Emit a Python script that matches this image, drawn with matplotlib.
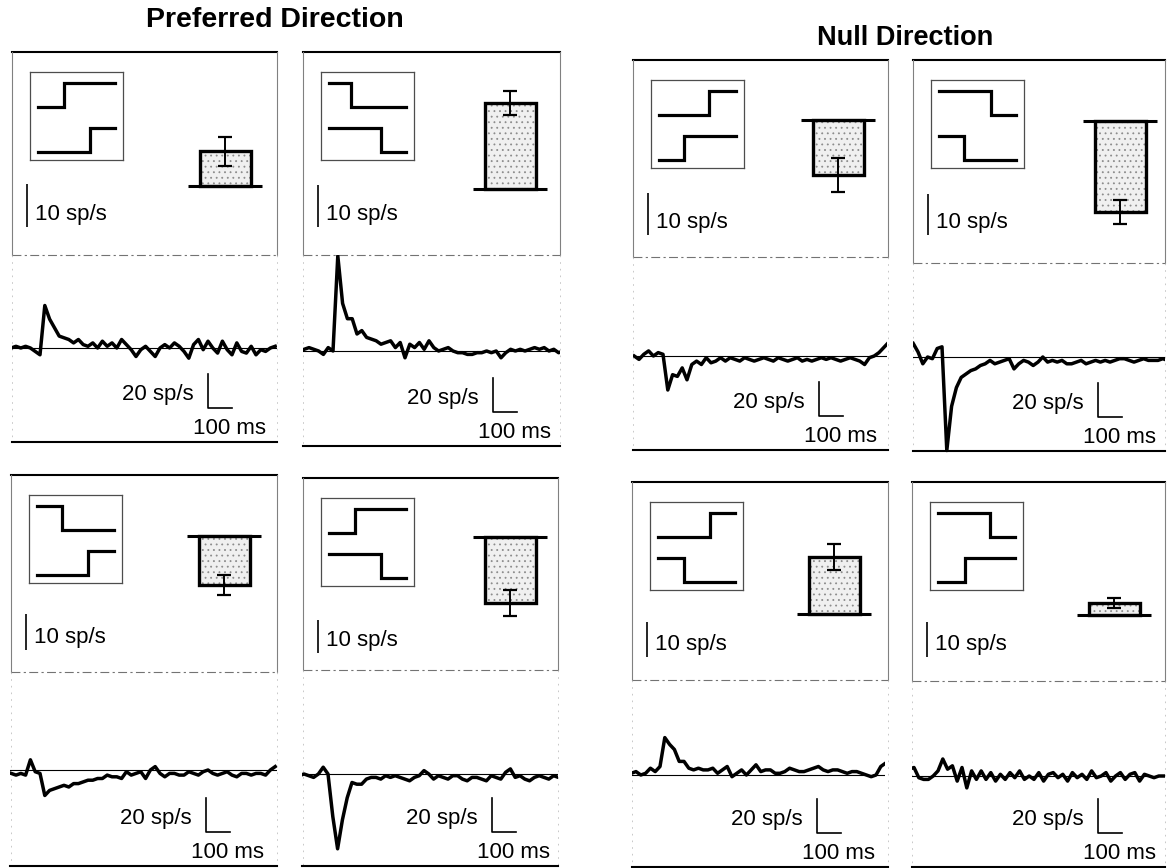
import matplotlib
matplotlib.use("Agg")
import matplotlib.pyplot as plt

W_PX, H_PX = 1171, 868

plt.rcParams['font.family'] = ['Liberation Sans', 'DejaVu Sans']
plt.rcParams['hatch.linewidth'] = 0.6

# ---- data (sp/s, ms) ----
# order: preferred 1-4, null 1-4 (row by row)
bar_mean = [8.1, 20.5, -13.6, -20.0, -13.1, -22.2, 16.3, 3.4]
bar_err = [3.4, 2.9, 2.8, 3.8, 4.0, 2.9, 3.6, 1.4]

# stimulus schematic: direction and step position of upper / lower line
stim_top = ['up', 'down', 'down', 'up', 'up', 'down', 'up', 'down']
stim_top_step = [0.37, 0.32, 0.36, 0.37, 0.62, 0.65, 0.64, 0.65]
stim_bot = ['up', 'down', 'up', 'down', 'up', 'down', 'down', 'up']
stim_bot_step = [0.64, 0.64, 0.63, 0.65, 0.35, 0.35, 0.37, 0.38]

t_ms = list(range(-120, 1000, 20))

trace_p1 = [0, 1, 0, 1, 0, -2,
            -4, 25, 17, 12, 7, 6, 5, 3, 5, 2,
            1, 3, 0, 4, 1, 3, 0, 5, 2, -1,
            -5, -1, 1, -2, -5, 0, 2, 0, 3, 1,
            -2, -6, 2, 5, -1, 4, 0, -3, 4, -1,
            -4, 3, -2, -3, 1, -4, -1, -2, 0, 1]
trace_p2 = [1, 2, 1, 0, -2, 2,
            0, 56, 28, 19, 19, 10, 12, 8, 7, 6,
            4, 5, 6, 2, 5, -4, 4, 2, 5, 1,
            6, 2, 0, 1, 2, 0, -1, -1, -2, -2,
            -1, -1, 0, -1, 0, -4, -1, 1, 0, 1,
            0, 1, 2, 1, 2, 0, 1, -1, 0, 1]
trace_p3 = [-2, -3, -2, -3, 6, -1,
            -2, -15, -12, -11, -10, -9, -10, -8, -8, -7,
            -6, -6, -5, -5, -3, -4, -4, -5, -1, -3,
            -2, -1, -5, 0, 2, -2, -4, -2, -2, -3,
            -3, -1, -2, -3, -1, 0, -2, -3, -2, -1,
            -3, -4, -2, -2, -3, -2, -2, -3, 0, 2]
trace_p4 = [-1, 0, -1, -2, 0, 4,
            0, -25, -44, -27, -14, -5, -6, -6, -3, -2,
            -2, -3, -1, -2, -1, -2, -3, -4, -2, -1,
            2, 0, -3, -1, -2, -3, -1, -1, -3, -4,
            -2, -2, -3, -4, -1, -2, -3, 1, 3, -2,
            -1, -3, -4, -2, -1, -2, -3, -1, -2, 0]
trace_n1 = [0, -2, 1, 3, 0, 2,
            1, -20, -11, -12, -7, -14, -5, -3, -5, -1,
            -4, -3, -1, -3, -1, -2, -3, -1, -2, -3,
            -2, -1, -2, -3, -1, -2, -3, -2, -1, -3,
            -2, -3, -2, -1, -2, -1, -2, -3, -2, -1,
            -2, -3, -5, -1, 0, 2, 5, 8, 8, 8]
trace_n2 = [8, 3, -4, 0, -1, 5,
            6, -55, -29, -18, -12, -10, -8, -7, -5, -4,
            -2, -4, -3, -2, -1, -7, -4, -2, -3, -5,
            -3, 0, -3, -2, -3, -2, -4, -4, -3, -2,
            -4, -3, -2, -3, -2, -3, -2, -1, -1, -2,
            -3, -2, -1, -2, -2, -2, -1, -2, -1, -1]
trace_n3 = [1, 2, 0, 1, 4, 2,
            5, 22, 18, 15, 8, 8, 4, 3, 4, 3,
            3, 4, 1, 3, 5, -1, 1, 3, 0, 3,
            6, 2, 3, 3, 1, 1, 2, 4, 3, 2,
            2, 3, 4, 5, 3, 2, 3, 3, 2, 1,
            2, 2, 1, 0, -1, 0, 5, 7, 7, 7]
trace_n4 = [4, 5, -1, -2, -2, 0,
            3, 10, 4, 6, -3, 5, -7, 3, -2, 3,
            -2, 2, -3, 1, -2, 2, -1, 3, -2, 0,
            -2, 2, -3, 1, 2, -1, 1, -3, 2, -1,
            1, -2, 3, -1, 0, 2, -3, 0, 2, -2,
            1, 2, -3, 1, 0, -1, 0, 0, 0, 0]
traces = [trace_p1, trace_p2, trace_p3, trace_p4,
          trace_n1, trace_n2, trace_n3, trace_n4]

# ---- layout (pixels, from top-left) ----
# left, right, top, dashed separator, bottom line
frames = [(12, 277, 52, 255, 442), (303, 560, 52, 255, 446),
          (11, 277, 475, 672, 866), (303, 558, 478, 670, 866),
          (633, 888, 60, 257, 450), (913, 1165, 60, 263, 451),
          (632, 888, 482, 680, 867), (912, 1165, 482, 681, 867)]
bar_base_rel = [134, 137, 61, 59, 60, 61, 132, 133]
bar_x_rel = [213, 207, 213, 207, 205, 207, 202, 202]
px_per_10 = [43, 42, 36, 33, 42, 41, 35, 35]
trace_start = [12, 303, 10, 302, 633, 913, 632, 912]
trace_end = [277, 560, 277, 558, 887, 1165, 885, 1165]
onset_px = [40, 333, 40, 328, 663, 942, 660, 938]
base_px = [348, 351, 770, 774, 356, 357, 775, 776]
scale_x_rel = [196, 190, 195, 189, 186, 185, 185, 186]
PX_PER_MS = 0.24
PX_PER_SPS = 1.7

fig = plt.figure(figsize=(11.71, 8.68), dpi=100)
over = fig.add_axes([0, 0, 1, 1])
over.set_xlim(0, W_PX)
over.set_ylim(H_PX, 0)
over.axis('off')


def px_box(x0, y0, x1, y1):
    return [x0 / W_PX, 1 - y1 / H_PX, (x1 - x0) / W_PX, (y1 - y0) / H_PX]


def step_line(ax, direction, pos, lo, hi):
    a, b = (lo, hi) if direction == 'up' else (hi, lo)
    ax.plot([0.09, pos, pos, 0.91], [a, a, b, b], color='black', lw=2.3,
            solid_joinstyle='miter')


over.text(275, 20, 'Preferred Direction', ha='center', va='center',
          fontsize=20.5, fontweight='bold')
over.text(905, 38, 'Null Direction', ha='center', va='center',
          fontsize=19.5, fontweight='bold')

for i in range(8):
    L, R, T, S, B = frames[i]

    # frame
    over.plot([L, R], [T, T], color='black', lw=1.5)
    over.plot([L, L], [T, S], color='0.5', lw=0.8)
    over.plot([R, R], [T, S], color='0.5', lw=0.8)
    over.plot([L, R], [S, S], color='0.45', lw=0.8, ls=(0, (8, 3, 2, 3)))
    over.plot([L, L], [S, B], color='0.75', lw=0.6, ls=(0, (2, 6)))
    over.plot([R, R], [S, B], color='0.75', lw=0.6, ls=(0, (2, 6)))
    over.plot([trace_start[i], R], [B, B], color='black', lw=1.5)

    # bar with error
    H = S - T
    b = bar_base_rel[i]
    ppu = px_per_10[i] / 10
    ax_up = fig.add_axes(px_box(L, T, R, S))
    ax_up.set_xlim(0, R - L)
    ax_up.set_ylim(-(H - b) / ppu, b / ppu)
    ax_up.axis('off')
    xc = bar_x_rel[i]
    ax_up.bar(xc, bar_mean[i], width=51, facecolor='0.94', edgecolor='0.55',
              hatch='...', linewidth=0)
    ax_up.bar(xc, bar_mean[i], width=51, facecolor='none', edgecolor='black',
              linewidth=2.4)
    ax_up.errorbar(xc, bar_mean[i], yerr=bar_err[i], color='black', lw=1.4,
                   capsize=5, capthick=1.6)
    ax_up.hlines(0, xc - 37, xc + 37, color='black', lw=2.2)
    y_sb = -(175 - b) / ppu
    ax_up.vlines(15, y_sb, y_sb + 10, color='black', lw=1.2)
    over.text(L + 23, T + 168, '10 sp/s', fontsize=16, va='baseline')

    # stimulus inset
    ax_in = fig.add_axes(px_box(L + 18, T + 20, L + 111, T + 108))
    ax_in.set_xlim(0, 1)
    ax_in.set_ylim(0, 1)
    ax_in.set_xticks([])
    ax_in.set_yticks([])
    for sp in ax_in.spines.values():
        sp.set_color('0.3')
        sp.set_linewidth(0.9)
    step_line(ax_in, stim_top[i], stim_top_step[i], 0.6, 0.875)
    step_line(ax_in, stim_bot[i], stim_bot_step[i], 0.09, 0.36)

    # PSTH trace
    x0, x1, on, base = trace_start[i], trace_end[i], onset_px[i], base_px[i]
    ax_tr = fig.add_axes(px_box(x0, S, x1, B + 8))
    ax_tr.set_xlim((x0 - on) / PX_PER_MS, (x1 - on) / PX_PER_MS)
    ax_tr.set_ylim(-(B + 8 - base) / PX_PER_SPS, (base - S) / PX_PER_SPS)
    ax_tr.axis('off')
    ax_tr.axhline(0, color='black', lw=0.8)
    ax_tr.plot(t_ms, traces[i], color='black', lw=2.5)
    cx = L + scale_x_rel[i]
    cy = B - 34
    tc = (cx - on) / PX_PER_MS
    yc = (base - cy) / PX_PER_SPS
    ax_tr.plot([tc, tc, tc + 100], [yc + 20, yc, yc], color='black', lw=1.2,
               clip_on=False)
    over.text(cx - 14, cy - 8, '20 sp/s', ha='right', va='baseline', fontsize=16)
    over.text(cx + 58, cy + 26, '100 ms', ha='right', va='baseline', fontsize=16)

fig.savefig('out.png', dpi=100)
